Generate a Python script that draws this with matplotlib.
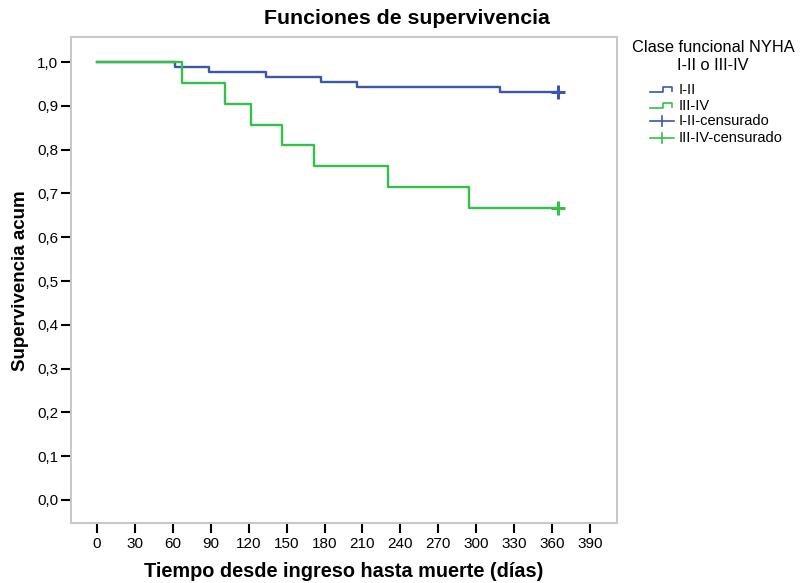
import matplotlib
matplotlib.use("Agg")
import matplotlib.pyplot as plt
from matplotlib.lines import Line2D

plt.rcParams['font.family'] = ['Liberation Sans', 'DejaVu Sans']

# Kaplan-Meier curves: event times (days) and cumulative survival after each event
t_12 = [0, 62, 89, 134, 177, 206, 319]
s_12 = [1.0, 0.989, 0.977, 0.966, 0.955, 0.943, 0.932]
t_34 = [0, 67, 101, 122, 146, 172, 230, 294]
s_34 = [1.0, 0.952, 0.905, 0.857, 0.810, 0.762, 0.714, 0.667]
censor_t = [365, 365]
censor_s = [0.932, 0.667]

x_ticks = list(range(0, 391, 30))
y_ticks = [i / 10 for i in range(11)]

blue = '#3b56aa'
green = '#35c04c'

fig = plt.figure(figsize=(8.04, 5.83), dpi=100)
W, H = 804, 583
ax = fig.add_axes([70.7 / W, 1 - 523.3 / H, (617.3 - 70.7) / W, (523.3 - 37.3) / H])

ax.step(t_12 + [censor_t[0]], s_12 + [s_12[-1]], where='post', color=blue, lw=1.7)
ax.step(t_34 + [censor_t[1]], s_34 + [s_34[-1]], where='post', color=green, lw=1.7)
ax.plot(censor_t[0], censor_s[0], '+', color=blue, ms=10, mew=2.2)
ax.plot(censor_t[1], censor_s[1], '+', color=green, ms=10, mew=2.2)

ax.set_xlim(-20.8, 411.6)
ax.set_ylim(-0.0532, 1.0564)
ax.set_xticks(x_ticks)
ax.set_yticks(y_ticks)
ax.set_yticklabels([f"{v:.1f}".replace('.', ',') for v in y_ticks])
ax.tick_params(axis='both', direction='out', length=7, width=1.5, colors='black',
               labelsize=11, pad=2)
ax.tick_params(axis='x', pad=3)
for sp in ax.spines.values():
    sp.set_color('#c8c8c8')
    sp.set_linewidth(1.5)

ax.set_xlabel('Tiempo desde ingreso hasta muerte (días)', fontsize=14.3,
              fontweight='bold', labelpad=8)
ax.set_ylabel('Supervivencia acum', fontsize=13.5, fontweight='bold', labelpad=6)

fig.text(407 / W, 1 - 18 / H, 'Funciones de supervivencia', ha='center', va='center',
         fontsize=15.3, fontweight='bold')

# Legend drawn in pixel coordinates on the right
def px(x, y):
    return x / W, 1 - y / H

fig.text(*px(713, 48), 'Clase funcional NYHA', ha='center', va='center', fontsize=11.8)
fig.text(*px(713, 66), 'I-II o III-IV', ha='center', va='center', fontsize=11.8)

labels = ['I-II', 'III-IV', 'I-II-censurado', 'III-IV-censurado']
colors = [blue, green, blue, green]
rows = [90, 106, 121, 138]
for i, (lab, c, yr) in enumerate(zip(labels, colors, rows)):
    if i < 2:
        xs = [650, 663, 663, 672, 672]
        ys = [yr + 2, yr + 2, yr - 3, yr - 3, yr + 1]
        fig.add_artist(Line2D([px(x, 0)[0] for x in xs], [px(0, y)[1] for y in ys],
                              color=c, lw=1.2, transform=fig.transFigure))
    else:
        fig.add_artist(Line2D([px(650, 0)[0], px(674, 0)[0]], [px(0, yr)[1]] * 2,
                              color=c, lw=1.2, transform=fig.transFigure))
        fig.add_artist(Line2D([px(662, 0)[0]] * 2, [px(0, yr - 5)[1], px(0, yr + 5)[1]],
                              color=c, lw=1.2, transform=fig.transFigure))
    fig.text(*px(679, yr), lab, ha='left', va='center', fontsize=10.5)

fig.savefig('out.png', dpi=100)
